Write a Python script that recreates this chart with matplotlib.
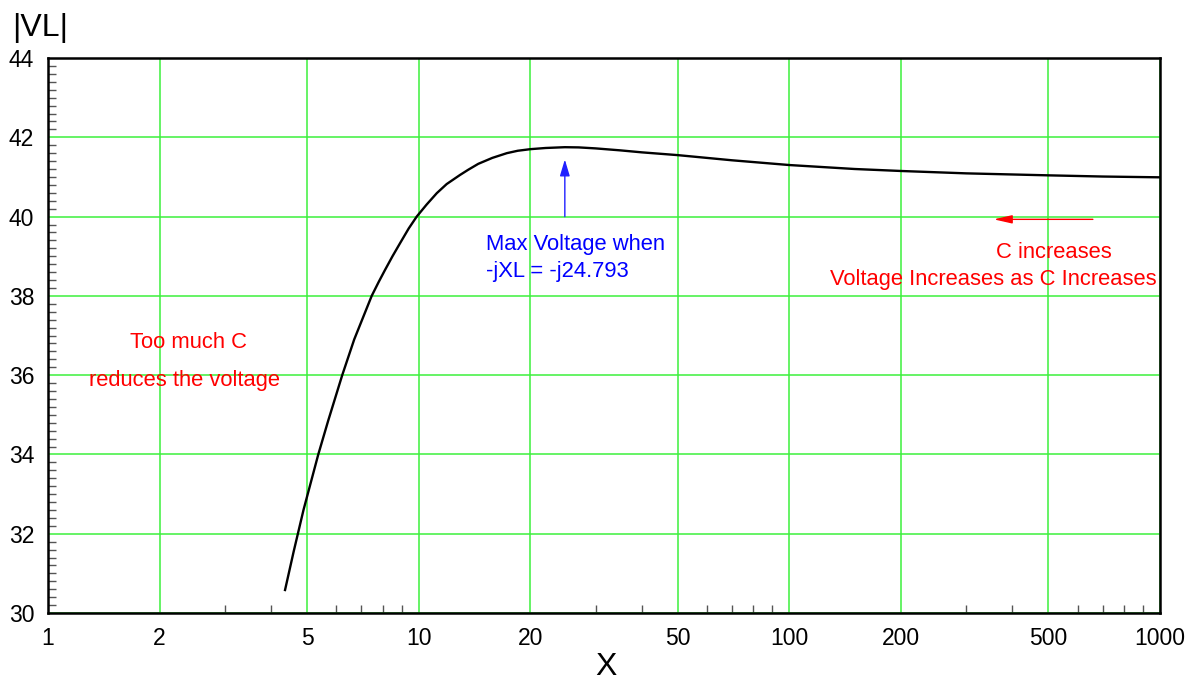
import matplotlib
matplotlib.use("Agg")
import matplotlib.pyplot as plt
from matplotlib.ticker import FixedLocator, NullFormatter

plt.rcParams["font.family"] = ["Liberation Sans", "DejaVu Sans"]

# |VL| against X
x_vals = [4.36, 4.6, 4.89, 5.36, 5.7, 6.22, 6.7, 7.47, 7.8, 8.11, 8.5, 8.91,
          9.4, 9.88, 10.5, 11.19, 11.9, 12.93, 13.6, 14.48, 15.8, 17.3, 18.5,
          20, 22, 24.79, 27, 30, 35, 40, 50, 70, 100, 150, 200, 300, 500, 700, 1000]
vl_vals = [30.58, 31.55, 32.6, 34.0, 34.85, 36.0, 36.9, 38.0, 38.35, 38.65, 39.0,
           39.33, 39.7, 40.0, 40.3, 40.59, 40.82, 41.05, 41.18, 41.33, 41.48,
           41.60, 41.66, 41.70, 41.73, 41.75, 41.745, 41.72, 41.67, 41.62, 41.55,
           41.42, 41.30, 41.20, 41.15, 41.09, 41.04, 41.01, 40.99]

x_major = [1, 2, 5, 10, 20, 50, 100, 200, 500, 1000]
x_minor = [3, 4, 6, 7, 8, 9, 30, 40, 60, 70, 80, 90, 300, 400, 600, 700, 800, 900]
y_major = [30, 32, 34, 36, 38, 40, 42, 44]

x_max = 24.793
grid_green = "#3cf03c"

fig = plt.figure(figsize=(11.96, 6.85), dpi=100)
ax = fig.add_axes([48 / 1196, 1 - 613 / 685, 1112 / 1196, 555 / 685])

ax.set_xscale("log")
ax.set_xlim(1, 1000)
ax.set_ylim(30, 44)

ax.xaxis.set_major_locator(FixedLocator(x_major))
ax.xaxis.set_minor_locator(FixedLocator(x_minor))
ax.xaxis.set_minor_formatter(NullFormatter())
ax.set_xticklabels([str(v) for v in x_major])
ax.yaxis.set_major_locator(FixedLocator(y_major))
ax.yaxis.set_minor_locator(FixedLocator([30 + 0.2 * i for i in range(71)]))

ax.grid(True, which="major", color=grid_green, linewidth=1.1)
ax.set_axisbelow(True)

ax.tick_params(which="both", direction="in", top=False, right=False, labelsize=16.5)
ax.tick_params(which="major", length=0)
ax.tick_params(axis="x", which="major", pad=10)
ax.tick_params(axis="y", which="major", pad=10)
ax.tick_params(which="minor", length=6, width=1, color="#555555")

for s in ax.spines.values():
    s.set_linewidth(1.8)
    s.set_color("black")

ax.plot(x_vals, vl_vals, color="black", linewidth=1.7, zorder=3)

# blue arrow to the maximum
ax.annotate("", xy=(x_max, 41.44), xytext=(x_max, 40.0),
            arrowprops=dict(arrowstyle="-|>,head_length=1.0,head_width=0.3",
                            color="#2020ff", lw=1, shrinkA=0, shrinkB=0))
ax.text(15.19, 38.96, "Max Voltage when\n-jXL = -j24.793", color="blue",
        fontsize=15.8, va="center", ha="left", linespacing=1.35)

# red arrow, C increases
ax.annotate("", xy=(356, 39.93), xytext=(659, 39.93),
            arrowprops=dict(arrowstyle="-|>,head_length=1.1,head_width=0.25",
                            color="red", lw=1, shrinkA=0, shrinkB=0))
ax.text(0.905, 0.650, "C increases", color="red", fontsize=15.8,
        ha="center", va="center", transform=ax.transAxes)
ax.text(0.997, 0.600, "Voltage Increases as C Increases", color="red",
        fontsize=15.8, ha="right", va="center", transform=ax.transAxes)

ax.text(0.126, 0.4865, "Too much C", color="red", fontsize=15.8,
        ha="center", va="center", transform=ax.transAxes)
ax.text(0.123, 0.4186, "reduces the voltage", color="red", fontsize=15.8,
        ha="center", va="center", transform=ax.transAxes)

fig.text(12 / 1196, 1 - 28 / 685, "|VL|", fontsize=23, ha="left", va="center")
fig.text(606 / 1196, 1 - 667 / 685, "X", fontsize=23, ha="center", va="center")

fig.savefig("out.png", dpi=100)
